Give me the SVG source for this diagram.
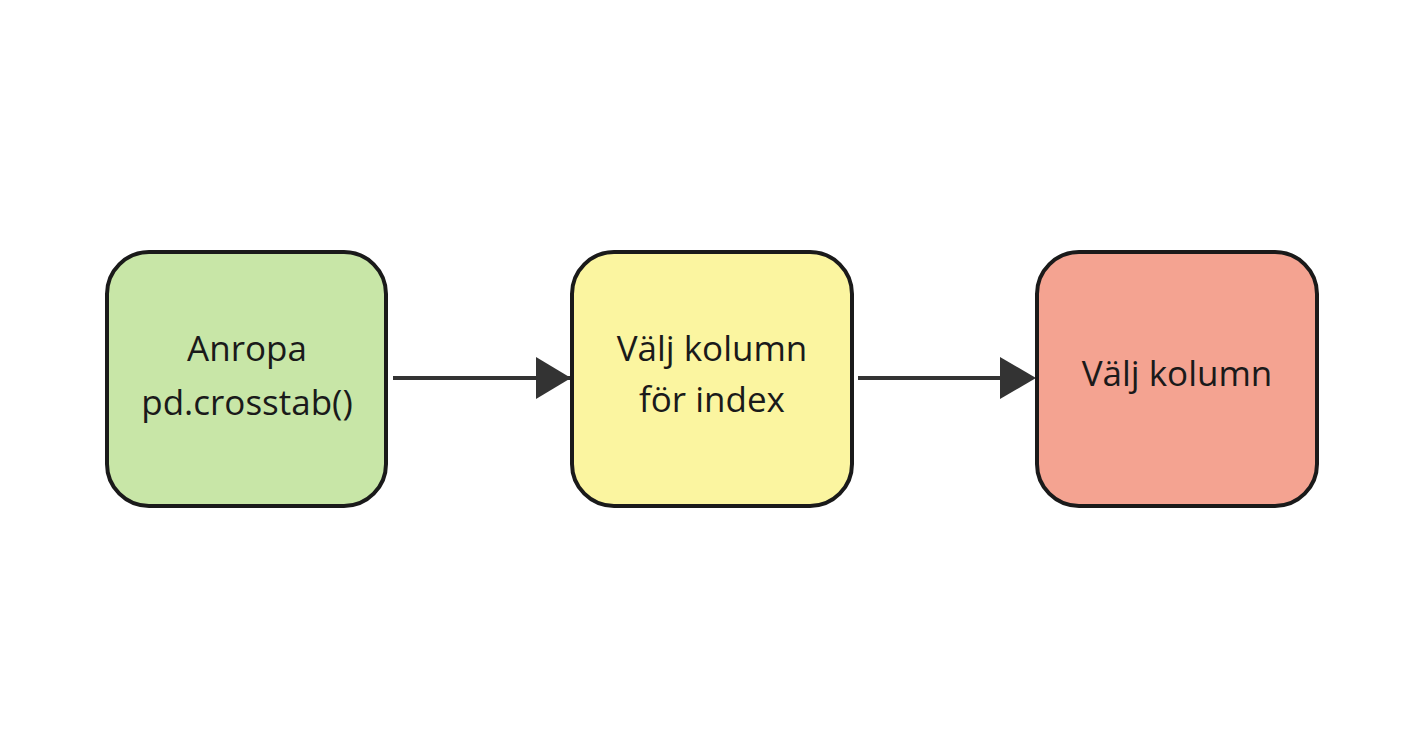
<svg xmlns="http://www.w3.org/2000/svg" width="1424" height="752" viewBox="0 0 1424 752">
<style>
.n{stroke:#1a1a1a;stroke-width:4}
.t{font-family:"Open Sans","Liberation Sans",sans-serif;font-size:35px;fill:#1a1a1a;text-anchor:middle}
.c{stroke:#333;stroke-width:4;fill:none}
</style>
<defs><marker id="a" viewBox="0 0 10 10" refX="10" refY="5" markerWidth="9" markerHeight="9" markerUnits="userSpaceOnUse" orient="auto"><path d="M0,0 L10,5 L0,10 z" fill="#333"/></marker></defs>
<rect width="1424" height="752" fill="#fff"/>
<g id="connectors">
<line class="c" x1="393" y1="378" x2="570" y2="378" marker-end="url(#a)" style="marker-end:none"/>
<path d="M536,357 L571,378 L536,399 z" fill="#333"/>
<line class="c" x1="858" y1="378" x2="1010" y2="378"/>
<path d="M1000,357 L1036,378 L1000,399 z" fill="#333"/>
</g>
<g id="n1"><rect class="n" x="107" y="252" width="279" height="254" rx="42" fill="#c8e6a7"/>
<text class="t" x="247" y="361">Anropa</text><text class="t" x="247" y="415">pd.crosstab()</text></g>
<g id="n2"><rect class="n" x="572" y="252" width="280" height="254" rx="42" fill="#fbf5a0"/>
<text class="t" x="712" y="361">Välj kolumn</text><text class="t" x="712" y="412">för index</text></g>
<g id="n3"><rect class="n" x="1037" y="252" width="280" height="254" rx="42" fill="#f4a391"/>
<text class="t" x="1177" y="386">Välj kolumn</text></g>
</svg>
